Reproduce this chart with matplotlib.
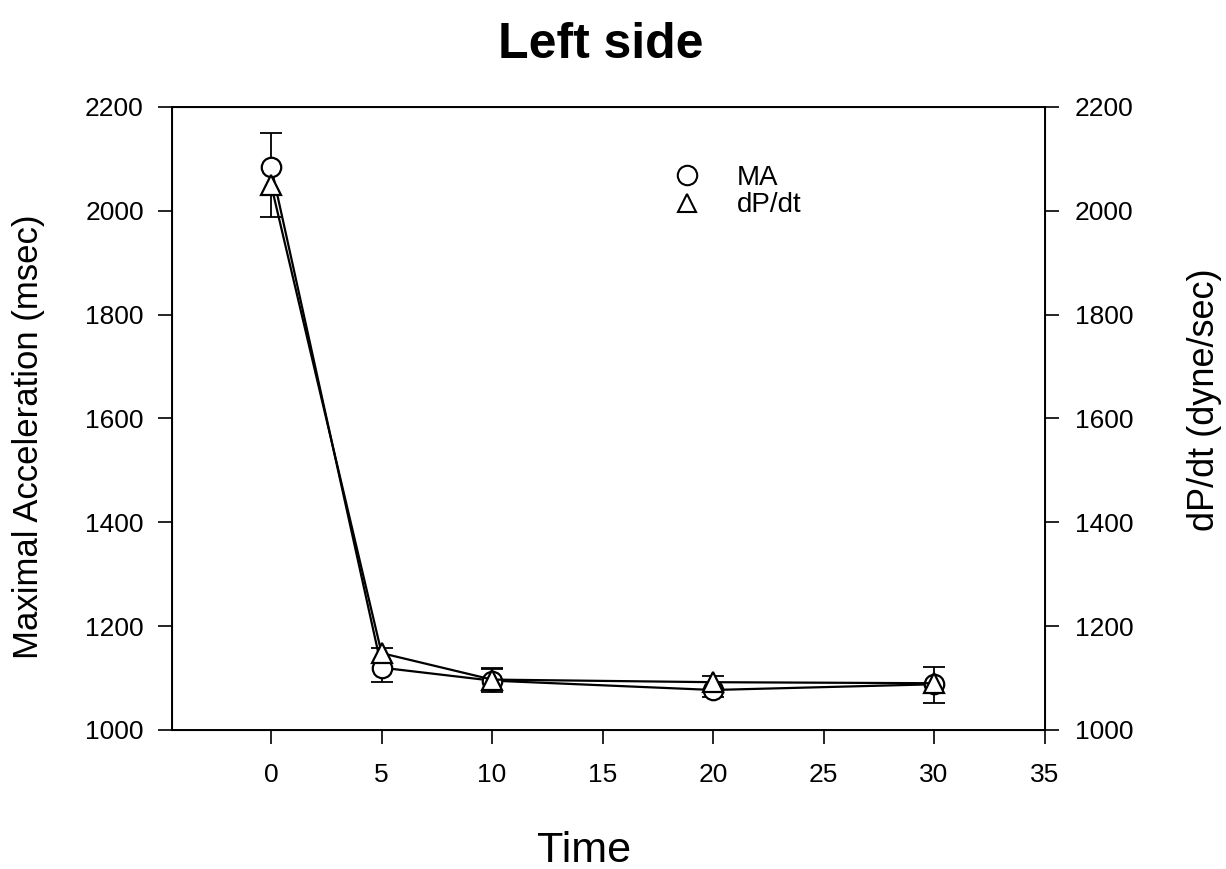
import matplotlib
matplotlib.use("Agg")
import matplotlib.pyplot as plt
from matplotlib.lines import Line2D

plt.rcParams['font.family'] = ['Liberation Sans', 'DejaVu Sans']

# Data
time = [0, 5, 10, 20, 30]
ma = [2085, 1120, 1095, 1077, 1088]
ma_lo = [0, 28, 22, 14, 36]      # visible lower error bars
ma_hi = [65, 0, 22, 0, 0]        # visible upper error bars
dpdt = [2050, 1148, 1097, 1092, 1090]
dpdt_lo = [62, 0, 0, 0, 0]
dpdt_hi = [0, 10, 22, 12, 31]

xticks = [0, 5, 10, 15, 20, 25, 30, 35]
yticks = [1000, 1200, 1400, 1600, 1800, 2000, 2200]

fig = plt.figure(figsize=(12.26, 8.69), dpi=100)
ax = fig.add_axes([0.140, 0.160, 0.712, 0.717])


def err_bars(x, y, lo, hi):
    # stems from y-lo to y+hi, caps only where a bar is visible
    ax.vlines(x, [v - d for v, d in zip(y, lo)], [v + d for v, d in zip(y, hi)],
              colors='black', lw=1.3, zorder=2)
    cx = [xi for xi, d in zip(x, lo) if d > 0] + [xi for xi, d in zip(x, hi) if d > 0]
    cy = [v - d for v, d in zip(y, lo) if d > 0] + [v + d for v, d in zip(y, hi) if d > 0]
    ax.plot(cx, cy, ls='none', marker='_', ms=16, mew=1.3, color='black', zorder=2)


err_bars(time, ma, ma_lo, ma_hi)
err_bars(time, dpdt, dpdt_lo, dpdt_hi)

ax.plot(time, ma, '-o', color='black', mfc='white', mec='black', ms=14, mew=1.6,
        lw=1.6, zorder=3)
ax.plot(time, dpdt, '-^', color='black', mfc='white', mec='black', ms=14, mew=1.6,
        lw=1.6, zorder=4)

ax.set_xlim(-4.5, 35)
ax.set_ylim(1000, 2200)
ax.set_xticks(xticks)
ax.set_yticks(yticks)
ax.tick_params(direction='out', length=10, width=1.2, labelsize=19)
ax.tick_params(axis='x', pad=14)
ax.tick_params(axis='y', pad=10)
for s in ax.spines.values():
    s.set_linewidth(1.4)

ax.set_ylabel('Maximal Acceleration (msec)', fontsize=25)
ax.yaxis.set_label_coords(-0.145, 0.47)

# Right axis with the same scale
ax2 = ax.twinx()
ax2.set_ylim(1000, 2200)
ax2.set_yticks(yticks)
ax2.tick_params(direction='out', length=10, width=1.2, labelsize=19, pad=12)
ax2.set_ylabel('dP/dt (dyne/sec)', fontsize=26)
ax2.yaxis.set_label_coords(1.163, 0.53)

# Legend: markers only
handles = [Line2D([], [], marker='o', ls='none', mfc='white', mec='black', ms=14, mew=1.5),
           Line2D([], [], marker='^', ls='none', mfc='white', mec='black', ms=13, mew=1.5)]
ax.legend(handles, ['MA', 'dP/dt'], loc='upper left', bbox_to_anchor=(0.530, 0.947),
          frameon=False, fontsize=20, handletextpad=0.8, labelspacing=0.05)

fig.text(0.49, 0.948, 'Left side', ha='center', va='center', fontsize=36, fontweight='bold')
fig.text(584 / 1226, 1 - 862 / 869, 'Time', ha='center', va='baseline', fontsize=31)

fig.savefig('out.png', dpi=100)
